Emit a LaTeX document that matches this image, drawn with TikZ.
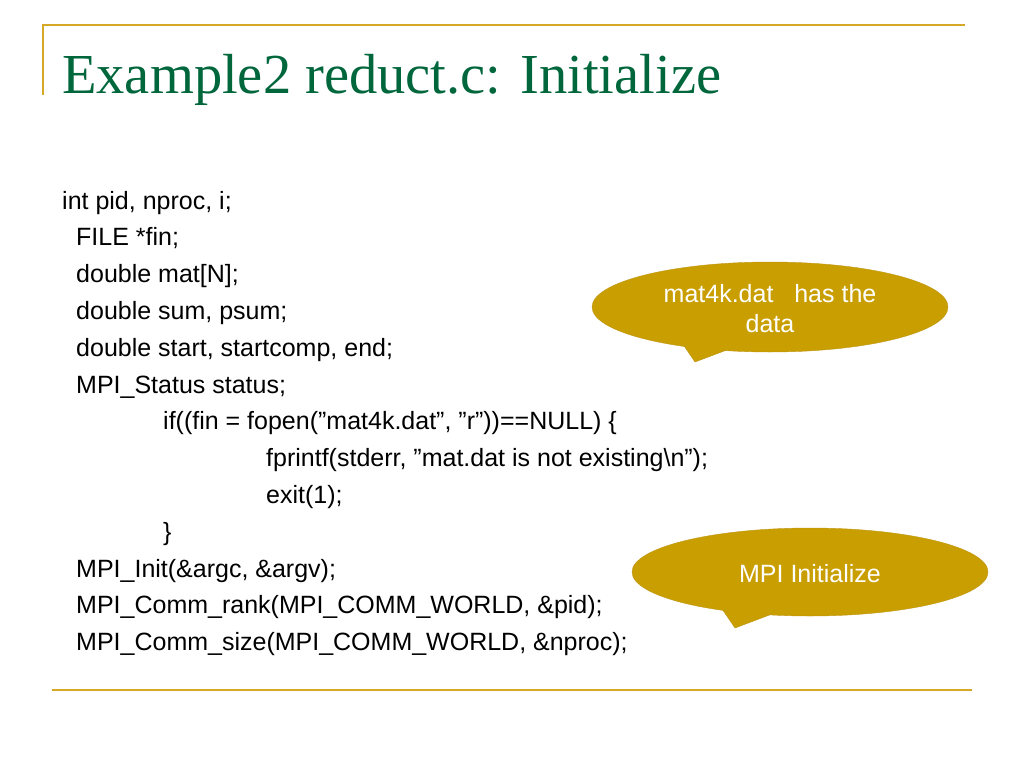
\documentclass[tikz,border=0pt]{standalone}
\usepackage{fontspec}
\setmainfont{Liberation Sans}
\newfontfamily\titlefont{Liberation Serif}
\definecolor{gold}{RGB}{214,168,40}
\definecolor{cfill}{RGB}{201,158,0}
\definecolor{cdraw}{RGB}{190,150,20}
\definecolor{tgreen}{RGB}{0,102,60}
\newcommand\dq{{\char34}}
\begin{document}
\begin{tikzpicture}[x=1pt,y=-1pt,
  code/.style={anchor=base west,inner sep=0pt,font=\fontsize{25}{30}\selectfont},
  ctext/.style={text=white,align=center,font=\fontsize{25}{30}\selectfont}]
\useasboundingbox (0,0) rectangle (1024,768);
\draw[gold,line width=1.5pt] (42,25) -- (965,25);
\draw[gold,line width=1.5pt] (43,25) -- (43,95);
\draw[gold,line width=1.5pt] (52,690) -- (972,690);
\node[anchor=base west,inner sep=0pt,text=tgreen,font=\titlefont\fontsize{56.5}{60}\selectfont] (title) at (62,93) {Example2 reduct.c: Initialize};
\foreach \i/\x/\t in {0/62/{int pid, nproc, i;},1/76/{FILE *fin;},2/76/{double mat[N];},3/76/{double sum, psum;},4/76/{double start, startcomp, end;},5/76/{MPI\_Status status;},6/163/{if((fin = fopen(\dq mat4k.dat\dq, \dq r\dq))==NULL) \{},7/266/{fprintf(stderr, \dq mat.dat is not existing\textbackslash n\dq);},8/266/{exit(1);},9/163/{\}},10/76/{MPI\_Init(\&argc, \&argv);},11/76/{MPI\_Comm\_rank(MPI\_COMM\_WORLD, \&pid);},12/76/{MPI\_Comm\_size(MPI\_COMM\_WORLD, \&nproc);}}
  \node[code] (l\i) at (\x,{209+36.8*\i}) {\t};
% callout 1
\draw[fill=cfill,draw=cdraw] (680,340) -- (695,362) -- (748,342) -- cycle;
\draw[fill=cfill,draw=cdraw] (770,307) ellipse [x radius=178, y radius=45];
\fill[cfill] (682,338) -- (695,359) -- (744,340) -- cycle;
\node[ctext] (c1) at (770,309) {mat4k.dat~~ has the\\data};
% callout 2
\draw[fill=cfill,draw=cdraw] (720,606) -- (735,628) -- (788,608) -- cycle;
\draw[fill=cfill,draw=cdraw] (810,572) ellipse [x radius=178, y radius=44];
\fill[cfill] (722,604) -- (735,625) -- (784,606) -- cycle;
\node[ctext] (c2) at (810,574) {MPI Initialize};
\end{tikzpicture}
\end{document}
